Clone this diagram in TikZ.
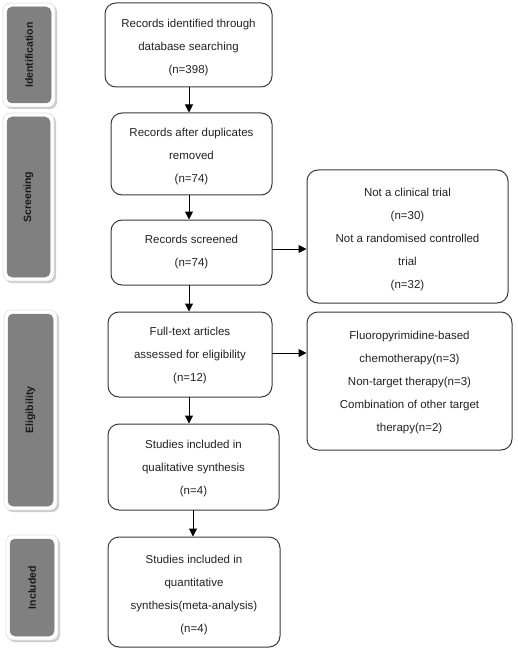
\documentclass[tikz,border=0pt]{standalone}
\usepackage{fontspec}
\setmainfont{Liberation Sans}
\usetikzlibrary{arrows.meta,calc}
\definecolor{edge}{HTML}{3A3A3A}
\definecolor{phasegray}{HTML}{808080}
\definecolor{txt}{HTML}{222222}
\tikzset{
  flowbox/.style={draw=edge, line width=1pt, rounded corners=11pt, fill=white, inner sep=0pt},
  flowtext/.style={align=center, text=txt, inner sep=0pt,
    font=\fontsize{11.5}{23}\selectfont},
  conn/.style={draw=black, line width=1pt, -{Triangle[width=8pt,length=8pt]}},
  phaseshadow/.style={fill=black!20, draw=none, rounded corners=7pt},
  phaseouter/.style={fill=white, draw=black!12, line width=0.6pt, rounded corners=7pt},
  phaseinner/.style={fill=phasegray, draw=black!50, line width=0.5pt, rounded corners=5pt},
  phasetext/.style={rotate=90, text=black!90, font=\fontsize{10.5}{12}\bfseries\selectfont}
}
\begin{document}
\begin{tikzpicture}[x=1pt,y=-1pt]
\useasboundingbox (0,0) rectangle (517,652);
\fill[white] (0,0) rectangle (517,652);
% phase labels
\newcommand{\phaselabel}[6]{%
  \fill[phaseshadow] (#1-2,#2-2) rectangle (#3+6,#4+6);
  \draw[phaseouter] (#1-4,#2-4) rectangle (#3+4,#4+4);
  \draw[phaseinner] (#1,#2) rectangle (#3,#4);
  \node[phasetext] (#6) at ({(#1+#3)/2},{(#2+#4)/2}) {#5};
}
\phaselabel{7}{7}{51}{103}{Identification}{pid}
\phaselabel{7}{117}{50}{277}{Screening}{pscr}
\phaselabel{8}{314}{53}{506}{Eligibility}{pel}
\phaselabel{10}{539}{54}{636}{Included}{pinc}
% boxes
\node[flowbox, minimum width=167pt, minimum height=84pt] (b1) at (188.5,45) {};
\node[flowtext] (b1t) at ($(b1)+(0,2.5)$)
  {Records identified through\\database searching\\(n=398)};
\node[flowbox, minimum width=161pt, minimum height=82pt] (b2) at (191.5,154) {};
\node[flowtext] (b2t) at ($(b2)+(0,2.5)$)
  {Records after duplicates\\removed\\(n=74)};
\node[flowbox, minimum width=161pt, minimum height=65pt] (b3) at (191.5,252.5) {};
\node[flowtext] (b3t) at ($(b3)+(0,0)$)
  {Records screened\\(n=74)};
\node[flowbox, minimum width=201pt, minimum height=133pt] (b4) at (407.5,236.5) {};
\node[flowtext] (b4t) at ($(b4)+(0,3.5)$)
  {Not a clinical trial\\(n=30)\\Not a randomised controlled\\trial\\(n=32)};
\node[flowbox, minimum width=164pt, minimum height=85pt] (b5) at (190,354.5) {};
\node[flowtext] (b5t) at ($(b5)+(0,1.5)$)
  {Full-text articles\\assessed for eligibility\\(n=12)};
\node[flowbox, minimum width=205pt, minimum height=138pt] (b6) at (409.5,381) {};
\node[flowtext] (b6t) at ($(b6)+(0,2)$)
  {Fluoropyrimidine-based\\chemotherapy(n=3)\\Non-target therapy(n=3)\\Combination of other target\\therapy(n=2)};
\node[flowbox, minimum width=171pt, minimum height=86pt] (b7) at (193.5,467) {};
\node[flowtext] (b7t) at ($(b7)+(0,2)$)
  {Studies included in\\qualitative synthesis\\(n=4)};
\node[flowbox, minimum width=172pt, minimum height=110pt] (b8) at (194,592) {};
\node[flowtext] (b8t) at ($(b8)+(0,3)$)
  {Studies included in\\quantitative\\synthesis(meta-analysis)\\(n=4)};
% connectors
\coordinate (c1) at (189,87);
\draw[conn] (c1) -- (c1 |- b2.north);
\coordinate (c2) at (189,195);
\draw[conn] (c2) -- (c2 |- b3.north);
\coordinate (c3) at (189,285);
\draw[conn] (c3) -- (c3 |- b5.north);
\coordinate (c4) at (189,397);
\draw[conn] (c4) -- (c4 |- b7.north);
\coordinate (c5) at (193,510);
\draw[conn] (c5) -- (c5 |- b8.north);
\coordinate (h1) at (272,249);
\draw[conn] (h1) -- (h1 -| b4.west);
\coordinate (h2) at (272,353);
\draw[conn] (h2) -- (h2 -| b6.west);
\end{tikzpicture}
\end{document}
